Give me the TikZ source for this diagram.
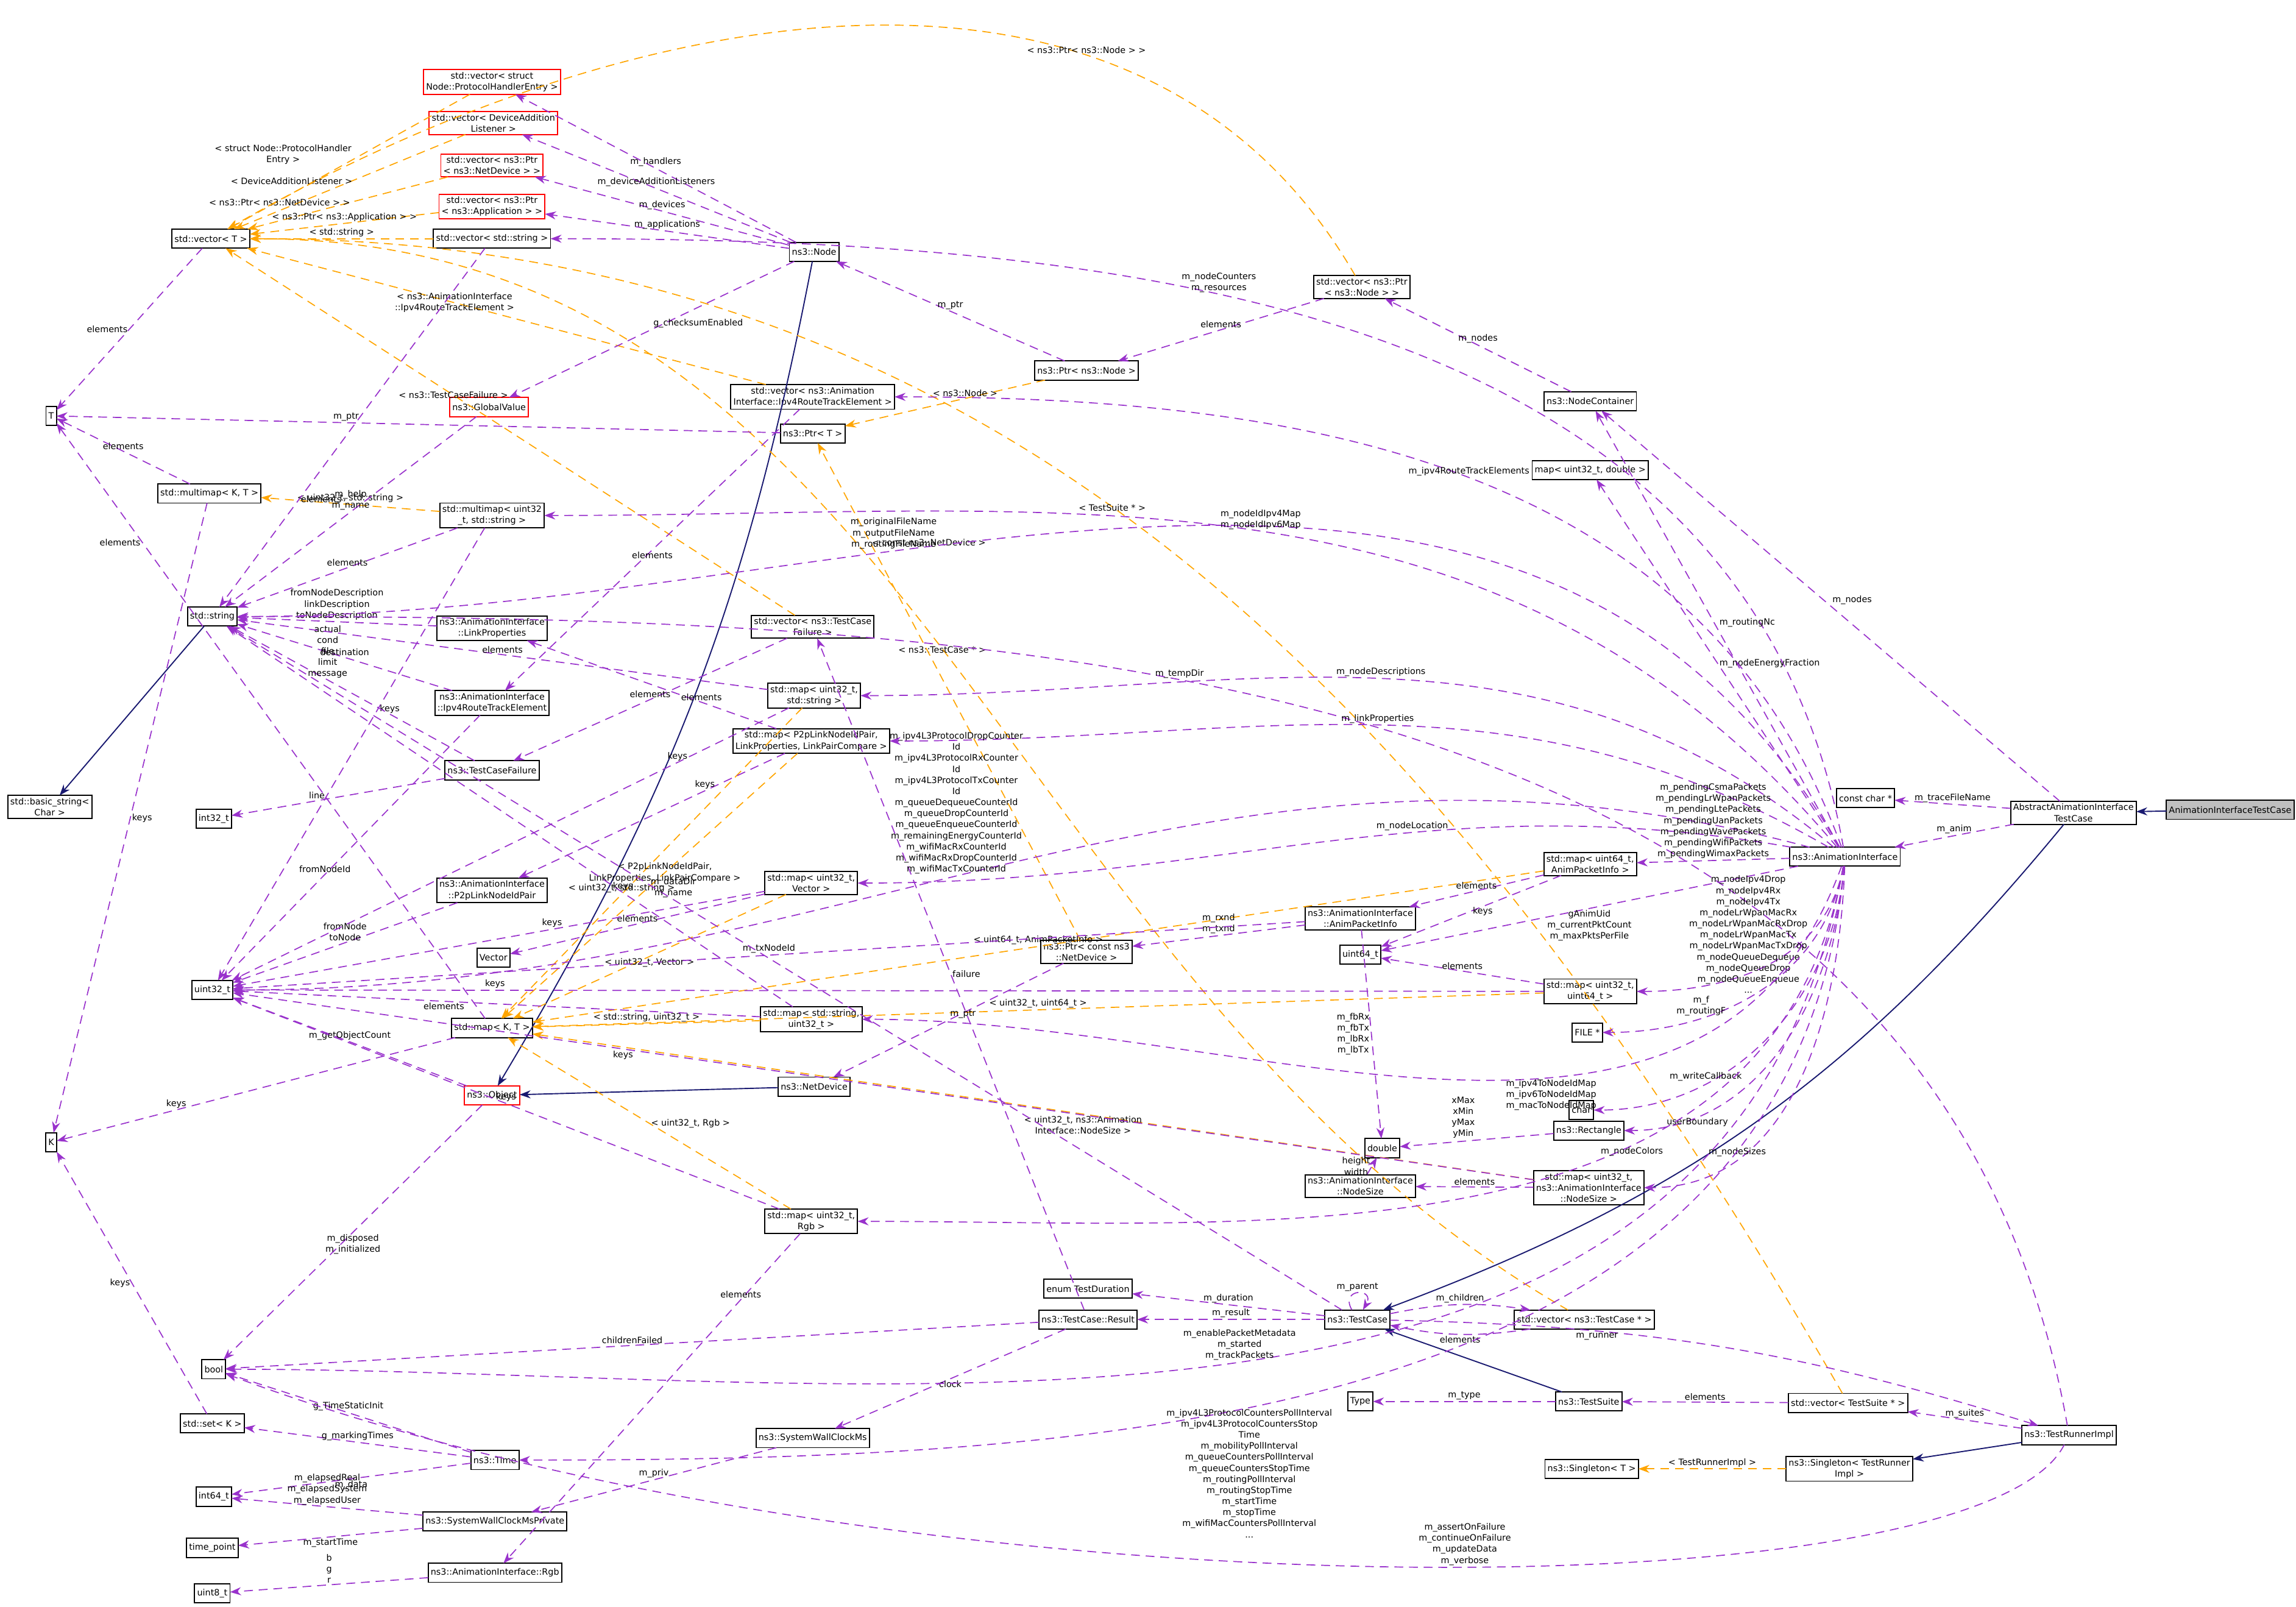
\documentclass[tikz,border=0pt]{standalone}
\usepackage{fontspec}
\setmainfont{DejaVu Sans}
\usetikzlibrary{arrows.meta}

\definecolor{usecol}{RGB}{153,50,204}
\definecolor{tplcol}{RGB}{255,165,0}
\definecolor{inhcol}{RGB}{25,25,112}

\begin{document}
\begin{tikzpicture}[x=0.2mm,y=-0.2mm,font=\fontsize{3.4}{4.3}\selectfont]
\tikzset{every node/.style={inner sep=0.25mm, outer sep=0mm}}

\tikzstyle{cls}=[draw=black, fill=white, text=black, align=center, inner sep=0.35mm, minimum height=2.6mm, line width=0.45pt]
\tikzstyle{red}=[cls, draw=red]
\tikzstyle{me}=[cls, fill=black!25]
\tikzstyle{lbl}=[align=center, fill=none, text=black]
\tikzstyle{use}=[->, >={Stealth[length=1.5mm,width=1.1mm]}, usecol, dash pattern=on 1.2mm off 0.8mm, line width=0.4pt]
\tikzstyle{tpl}=[->, >={Stealth[length=1.5mm,width=1.1mm]}, tplcol, dash pattern=on 1.2mm off 0.8mm, line width=0.4pt]
\tikzstyle{inh}=[->, >={Stealth[length=1.5mm,width=1.1mm]}, inhcol, line width=0.45pt]

\useasboundingbox[fill=white] (0,0) rectangle (1568,1097);

% left column
\node[cls] (T) at (35,284) {T};
\node[cls] (vecT) at (144,163) {std::vector< T >};
\node[cls] (mmKT) at (143,337) {std::multimap< K, T >};
\node[cls] (str) at (145,421) {std::string};
\node[cls] (bstr) at (34,551) {std::basic\_string<\\Char >};
\node[cls] (i32) at (146,559) {int32\_t};
\node[cls] (u32) at (145,676) {uint32\_t};
\node[cls] (K) at (35,780) {K};
\node[cls] (bool) at (146,935) {bool};
\node[cls] (setK) at (145,972) {std::set< K >};
\node[cls] (i64) at (146,1022) {int64\_t};
\node[cls] (tp) at (145,1057) {time\_point};
\node[cls] (u8) at (145,1088) {uint8\_t};

% second column
\node[red] (vecPH) at (336,56) {std::vector< struct\\Node::ProtocolHandlerEntry >};
\node[red] (vecDA) at (337,84) {std::vector< DeviceAddition\\Listener >};
\node[red] (vecND) at (336,113) {std::vector< ns3::Ptr\\< ns3::NetDevice > >};
\node[red] (vecApp) at (336,141) {std::vector< ns3::Ptr\\< ns3::Application > >};
\node[cls] (vecStr) at (336,163) {std::vector< std::string >};
\node[red] (gv) at (334,278) {ns3::GlobalValue};
\node[cls] (mmU32Str) at (336,352) {std::multimap< uint32\\\_t, std::string >};
\node[cls] (linkProp) at (336,429) {ns3::AnimationInterface\\::LinkProperties};
\node[cls] (rte) at (336,480) {ns3::AnimationInterface\\::Ipv4RouteTrackElement};
\node[cls] (tcf) at (336,526) {ns3::TestCaseFailure};
\node[cls] (p2pPair) at (336,608) {ns3::AnimationInterface\\::P2pLinkNodeIdPair};
\node[cls] (vector) at (337,654) {Vector};
\node[cls] (mapKT) at (336,702) {std::map< K, T >};
\node[red] (obj) at (336,748) {ns3::Object};
\node[cls] (time) at (338,997) {ns3::Time};
\node[cls] (swcp) at (338,1039) {ns3::SystemWallClockMsPrivate};
\node[cls] (rgb) at (338,1074) {ns3::AnimationInterface::Rgb};

% third column
\node[cls] (node) at (556,172) {ns3::Node};
\node[cls] (vecRte) at (555,271) {std::vector< ns3::Animation\\Interface::Ipv4RouteTrackElement >};
\node[cls] (ptrT) at (555,296) {ns3::Ptr< T >};
\node[cls] (vecTcf) at (555,428) {std::vector< ns3::TestCase\\Failure >};
\node[cls] (mapU32Str) at (556,475) {std::map< uint32\_t,\\std::string >};
\node[cls] (mapP2p) at (554,506) {std::map< P2pLinkNodeIdPair,\\LinkProperties, LinkPairCompare >};
\node[cls] (mapU32Vec) at (554,603) {std::map< uint32\_t,\\Vector >};
\node[cls] (mapStrU32) at (554,696) {std::map< std::string,\\uint32\_t >};
\node[cls] (netdev) at (556,742) {ns3::NetDevice};
\node[cls] (mapU32Rgb) at (554,834) {std::map< uint32\_t,\\Rgb >};
\node[cls] (swc) at (555,982) {ns3::SystemWallClockMs};

% fourth column
\node[cls] (ptrNode) at (742,253) {ns3::Ptr< ns3::Node >};
\node[cls] (ptrND) at (742,650) {ns3::Ptr< const ns3\\::NetDevice >};
\node[cls] (dur) at (743,880) {enum TestDuration};
\node[cls] (result) at (743,901) {ns3::TestCase::Result};
\node[cls] (vecPtrNode) at (930,196) {std::vector< ns3::Ptr\\< ns3::Node > >};
\node[cls] (api) at (929,627) {ns3::AnimationInterface\\::AnimPacketInfo};
\node[cls] (u64) at (929,652) {uint64\_t};
\node[cls] (double) at (944,784) {double};
\node[cls] (nsize) at (929,810) {ns3::AnimationInterface\\::NodeSize};
\node[cls] (tc) at (927,901) {ns3::TestCase};
\node[cls] (type) at (929,957) {Type};

% fifth column
\node[cls] (nc) at (1086,274) {ns3::NodeContainer};
\node[cls] (mapDbl) at (1086,321) {map< uint32\_t, double >};
\node[cls] (mapU64Api) at (1086,590) {std::map< uint64\_t,\\AnimPacketInfo >};
\node[cls] (mapU32U64) at (1086,677) {std::map< uint32\_t,\\uint64\_t >};
\node[cls] (file) at (1084,705) {FILE *};
\node[cls] (char) at (1080,758) {char};
\node[cls] (rect) at (1085,772) {ns3::Rectangle};
\node[cls] (mapNs) at (1085,811) {std::map< uint32\_t,\\ns3::AnimationInterface\\::NodeSize >};
\node[cls] (vecTc) at (1082,901) {std::vector< ns3::TestCase * >};
\node[cls] (ts) at (1085,957) {ns3::TestSuite};
\node[cls] (singT) at (1087,1003) {ns3::Singleton< T >};

% right part
\node[cls] (ai) at (1260,585) {ns3::AnimationInterface};
\node[cls] (vecTs) at (1262,958) {std::vector< TestSuite * >};
\node[cls] (singR) at (1263,1003) {ns3::Singleton< TestRunner\\Impl >};
\node[cls] (tri) at (1413,980) {ns3::TestRunnerImpl};
\node[cls] (cchar) at (1274,545) {const char *};
\node[cls] (aaitc) at (1416,555) {AbstractAnimationInterface\\TestCase};
\node[me] (aitc) at (1523,553) {AnimationInterfaceTestCase};

% inheritance
\draw[inh] (aitc) -- (aaitc);
\draw[inh] (aaitc) to[bend left=15] (tc);
\draw[inh] (str) -- (bstr);
\draw[inh] (node) to[bend left=10] (obj);
\draw[inh] (netdev) -- (obj);
\draw[inh] (ts) -- (tc);
\draw[inh] (tri) -- (singR);

% templates
\draw[tpl] (vecPH) -- node[lbl, above left=-0.6mm]{< struct Node::ProtocolHandler\\Entry >} (vecT);
\draw[tpl] (vecDA) -- node[lbl, above left=-0.6mm]{< DeviceAdditionListener >} (vecT);
\draw[tpl] (vecND) -- node[lbl, above left=-0.6mm]{< ns3::Ptr< ns3::NetDevice > >} (vecT);
\draw[tpl] (vecApp) -- node[lbl, above]{< ns3::Ptr< ns3::Application > >} (vecT);
\draw[tpl] (vecStr) -- node[lbl, above]{< std::string >} (vecT);
\draw[tpl] (vecPtrNode) to[out=120, in=30] node[lbl, pos=0.3, above]{< ns3::Ptr< ns3::Node > >} (vecT);
\draw[tpl] (vecRte) -- node[lbl, pos=0.6]{< ns3::AnimationInterface\\::Ipv4RouteTrackElement >} (vecT);
\draw[tpl] (vecTcf) -- node[lbl, pos=0.6]{< ns3::TestCaseFailure >} (vecT);
\draw[tpl] (vecTc) to[out=150, in=0] node[lbl, pos=0.5]{< ns3::TestCase * >} (vecT);
\draw[tpl] (vecTs) to[out=120, in=0] node[lbl, pos=0.55]{< TestSuite * >} (vecT);
\draw[tpl] (mmU32Str) -- node[lbl, above]{< uint32\_t, std::string >} (mmKT);
\draw[tpl] (ptrNode) -- node[lbl, pos=0.4, above]{< ns3::Node >} (ptrT);
\draw[tpl] (ptrND) -- node[lbl, pos=0.8, right]{< const ns3::NetDevice >} (ptrT);
\draw[tpl] (mapU32Str) -- node[lbl, pos=0.6, above]{< uint32\_t, std::string >} (mapKT);
\draw[tpl] (mapP2p) -- node[lbl, pos=0.45]{< P2pLinkNodeIdPair,\\LinkProperties, LinkPairCompare >} (mapKT);
\draw[tpl] (mapU32Vec) -- node[lbl, pos=0.5, below]{< uint32\_t, Vector >} (mapKT);
\draw[tpl] (mapStrU32) -- node[lbl, above]{< std::string, uint32\_t >} (mapKT);
\draw[tpl] (mapU32Rgb) -- node[lbl, pos=0.5, right]{< uint32\_t, Rgb >} (mapKT);
\draw[tpl] (mapU64Api) -- node[lbl, pos=0.5, above]{< uint64\_t, AnimPacketInfo >} (mapKT);
\draw[tpl] (mapU32U64) -- node[lbl, pos=0.5, above]{< uint32\_t, uint64\_t >} (mapKT);
\draw[tpl] (mapNs) -- node[lbl, pos=0.45, below]{< uint32\_t, ns3::Animation\\Interface::NodeSize >} (mapKT);
\draw[tpl] (singR) -- node[lbl, above]{< TestRunnerImpl >} (singT);

% members, left part
\draw[use] (vecT) -- node[lbl, left]{elements} (T);
\draw[use] (mmKT) -- node[lbl, above]{elements} (T);
\draw[use] (mmKT) -- node[lbl, right]{keys} (K);
\draw[use] (setK) -- node[lbl, left]{keys} (K);
\draw[use] (mapKT) -- node[lbl, pos=0.8, left]{elements} (T);
\draw[use] (mapKT) -- node[lbl, pos=0.7, above]{keys} (K);
\draw[use] (vecStr) -- node[lbl, pos=0.7, right]{elements} (str);
\draw[use] (mmU32Str) -- node[lbl, above]{elements} (str);
\draw[use] (mmU32Str) -- node[lbl, pos=0.4, right]{keys} (u32);
\draw[use] (gv) -- node[lbl, above]{m\_help\\m\_name} (str);
\draw[use] (ptrT) -- node[lbl, pos=0.6, above]{m\_ptr} (T);
\draw[use] (linkProp) -- node[lbl, above]{fromNodeDescription\\linkDescription\\toNodeDescription} (str);
\draw[use] (rte) -- node[lbl, above]{destination} (str);
\draw[use] (rte) -- node[lbl, pos=0.6, above]{fromNodeId} (u32);
\draw[use] (tcf) -- node[lbl, pos=0.6, above]{actual\\cond\\file\\limit\\message} (str);
\draw[use] (tcf) -- node[lbl, pos=0.6, above]{line} (i32);
\draw[use] (p2pPair) -- node[lbl, above]{fromNode\\toNode} (u32);
\draw[use] (obj) -- node[lbl, above]{m\_getObjectCount} (u32);
\draw[use] (obj) -- node[lbl, below]{m\_disposed\\m\_initialized} (bool);
\draw[use] (time) -- node[lbl, above]{g\_TimeStaticInit} (bool);
\draw[use] (time) -- node[lbl, above]{g\_markingTimes} (setK);
\draw[use] (time) -- node[lbl, below]{m\_data} (i64);
\draw[use] (swcp) -- node[lbl, above]{m\_elapsedReal\\m\_elapsedSystem\\m\_elapsedUser} (i64);
\draw[use] (swcp) -- node[lbl, below]{m\_startTime} (tp);
\draw[use] (rgb) -- node[lbl, above]{b\\g\\r} (u8);

% members, middle part
\draw[use] (node) -- node[lbl, above]{m\_handlers} (vecPH);
\draw[use] (node) -- node[lbl, above]{m\_deviceAdditionListeners} (vecDA);
\draw[use] (node) -- node[lbl, above]{m\_devices} (vecND);
\draw[use] (node) -- node[lbl, above]{m\_applications} (vecApp);
\draw[use] (node) -- node[lbl, above right]{g\_checksumEnabled} (gv);
\draw[use] (ptrNode) -- node[lbl, above]{m\_ptr} (node);
\draw[use] (vecPtrNode) -- node[lbl, above]{elements} (ptrNode);
\draw[use] (nc) -- node[lbl, above]{m\_nodes} (vecPtrNode);
\draw[use] (vecRte) -- node[lbl, below]{elements} (rte);
\draw[use] (vecTcf) -- node[lbl, above]{elements} (tcf);
\draw[use] (mapU32Str) -- node[lbl, above]{elements} (str);
\draw[use] (mapU32Str) -- node[lbl, pos=0.2, above]{keys} (u32);
\draw[use] (mapP2p) -- node[lbl, pos=0.3, above]{elements} (linkProp);
\draw[use] (mapP2p) -- node[lbl, pos=0.3, above]{keys} (p2pPair);
\draw[use] (mapU32Vec) -- node[lbl, above]{elements} (vector);
\draw[use] (mapU32Vec) -- node[lbl, pos=0.4, above]{keys} (u32);
\draw[use] (mapStrU32) -- node[lbl, pos=0.3, above]{keys} (str);
\draw[use] (mapStrU32) -- node[lbl, pos=0.6, below]{elements} (u32);
\draw[use] (mapU32Rgb) -- node[lbl, pos=0.2, above]{elements} (rgb);
\draw[use] (mapU32Rgb) -- node[lbl, pos=0.5, above]{keys} (u32);
\draw[use] (ptrND) -- node[lbl, pos=0.5, above right]{m\_ptr} (netdev);
\draw[use] (swc) -- node[lbl, above]{m\_priv} (swcp);
\draw[use] (api) -- node[lbl, above]{m\_rxnd\\m\_txnd} (ptrND);
\draw[use] (api) -- node[lbl, pos=0.5, above]{m\_txNodeId} (u32);
\draw[use] (api) -- node[lbl, pos=0.5, left]{m\_fbRx\\m\_fbTx\\m\_lbRx\\m\_lbTx} (double);
\draw[use] (mapU64Api) -- node[lbl, above]{elements} (api);
\draw[use] (mapU64Api) -- node[lbl, pos=0.5, right]{keys} (u64);
\draw[use] (mapU32U64) -- node[lbl, above]{elements} (u64);
\draw[use] (mapU32U64) -- node[lbl, pos=0.8, above]{keys} (u32);
\draw[use] (rect) -- node[lbl, above left]{xMax\\xMin\\yMax\\yMin} (double);
\draw[use] (nsize) -- node[lbl, left]{height\\width} (double);
\draw[use] (mapNs) -- node[lbl, above]{elements} (nsize);
\draw[use] (mapNs) -- node[lbl, pos=0.7, below]{keys} (u32);

% test framework
\draw[use] (tc) -- node[lbl, above]{m\_duration} (dur);
\draw[use] (tc) -- node[lbl, above]{m\_result} (result);
\draw[use] (tc) to[out=120, in=60, looseness=6] node[lbl, above]{m\_parent} (tc);
\draw[use] (tc) to[bend left=10] node[lbl, above]{m\_children} (vecTc);
\draw[use] (vecTc) to[bend left=10] node[lbl, below]{elements} (tc);
\draw[use] (tc) -- node[lbl, pos=0.6, above]{m\_dataDir\\m\_name} (str);
\draw[use] (result) -- node[lbl, right]{failure} (vecTcf);
\draw[use] (result) -- node[lbl, above]{childrenFailed} (bool);
\draw[use] (result) -- node[lbl, below]{clock} (swc);
\draw[use] (ts) -- node[lbl, above]{m\_type} (type);
\draw[use] (vecTs) -- node[lbl, above]{elements} (ts);
\draw[use] (tri) -- node[lbl, above]{m\_suites} (vecTs);
\draw[use] (tc) to[bend left=8] node[lbl, pos=0.3, below]{m\_runner} (tri);
\draw[use] (tri) .. controls (1350,1105) and (600,1105) .. node[lbl, pos=0.45, above]{m\_assertOnFailure\\m\_continueOnFailure\\m\_updateData\\m\_verbose} (bool);
\draw[use] (tri) to[out=100, in=0] node[lbl, pos=0.6, above]{m\_tempDir} (str);

% AnimationInterface members
\draw[use] (aaitc) -- node[lbl, above]{m\_anim} (ai);
\draw[use] (aaitc) -- node[lbl, above]{m\_traceFileName} (cchar);
\draw[use] (aaitc) -- node[lbl, above right]{m\_nodes} (nc);
\draw[use] (ai) to[out=100, in=0] node[lbl, pos=0.6, above]{m\_nodeCounters\\m\_resources} (vecStr);
\draw[use] (ai) -- node[lbl, above right]{m\_routingNc} (nc);
\draw[use] (ai) -- node[lbl, right]{m\_nodeEnergyFraction} (mapDbl);
\draw[use] (ai) to[out=110, in=0] node[lbl, pos=0.5, above]{m\_ipv4RouteTrackElements} (vecRte);
\draw[use] (ai) to[out=120, in=0] node[lbl, pos=0.65, above]{m\_originalFileName\\m\_outputFileName\\m\_routingFileName} (str);
\draw[use] (ai) to[out=130, in=0] node[lbl, pos=0.5, above]{m\_nodeIdIpv4Map\\m\_nodeIdIpv6Map} (mmU32Str);
\draw[use] (ai) to[out=140, in=0] node[lbl, pos=0.5, above]{m\_nodeDescriptions} (mapU32Str);
\draw[use] (ai) to[out=150, in=0] node[lbl, pos=0.5, above]{m\_linkProperties} (mapP2p);
\draw[use] (ai) to[out=165, in=0] node[lbl, pos=0.55, above]{m\_ipv4L3ProtocolDropCounter\\Id\\m\_ipv4L3ProtocolRxCounter\\Id\\m\_ipv4L3ProtocolTxCounter\\Id\\m\_queueDequeueCounterId\\m\_queueDropCounterId\\m\_queueEnqueueCounterId\\m\_remainingEnergyCounterId\\m\_wifiMacRxCounterId\\m\_wifiMacRxDropCounterId\\m\_wifiMacTxCounterId} (u32);
\draw[use] (ai) to[out=170, in=0] node[lbl, pos=0.4, above]{m\_nodeLocation} (mapU32Vec);
\draw[use] (ai) -- node[lbl, above]{m\_pendingCsmaPackets\\m\_pendingLrWpanPackets\\m\_pendingLtePackets\\m\_pendingUanPackets\\m\_pendingWavePackets\\m\_pendingWifiPackets\\m\_pendingWimaxPackets} (mapU64Api);
\draw[use] (ai) -- node[lbl, below]{gAnimUid\\m\_currentPktCount\\m\_maxPktsPerFile} (u64);
\draw[use] (ai) to[out=-100, in=0] node[lbl, pos=0.3, left]{m\_nodeIpv4Drop\\m\_nodeIpv4Rx\\m\_nodeIpv4Tx\\m\_nodeLrWpanMacRx\\m\_nodeLrWpanMacRxDrop\\m\_nodeLrWpanMacTx\\m\_nodeLrWpanMacTxDrop\\m\_nodeQueueDequeue\\m\_nodeQueueDrop\\m\_nodeQueueEnqueue\\...} (mapU32U64);
\draw[use] (ai) to[out=-100, in=0] node[lbl, pos=0.7, above]{m\_f\\m\_routingF} (file);
\draw[use] (ai) to[out=-110, in=0] node[lbl, pos=0.4, below]{m\_ipv4ToNodeIdMap\\m\_ipv6ToNodeIdMap\\m\_macToNodeIdMap} (mapStrU32);
\draw[use] (ai) to[out=-95, in=0] node[lbl, pos=0.7, above]{m\_writeCallback} (char);
\draw[use] (ai) to[out=-95, in=0] node[lbl, pos=0.8, below]{userBoundary} (rect);
\draw[use] (ai) to[out=-92, in=0] node[lbl, pos=0.75, above]{m\_nodeSizes} (mapNs);
\draw[use] (ai) to[out=-100, in=0] node[lbl, pos=0.35, below]{m\_nodeColors} (mapU32Rgb);
\draw[use] (ai) to[out=-100, in=0] node[lbl, pos=0.5, above]{m\_enablePacketMetadata\\m\_started\\m\_trackPackets} (bool);
\draw[use] (ai) to[out=-95, in=0] node[lbl, pos=0.58, below]{m\_ipv4L3ProtocolCountersPollInterval\\m\_ipv4L3ProtocolCountersStop\\Time\\m\_mobilityPollInterval\\m\_queueCountersPollInterval\\m\_queueCountersStopTime\\m\_routingPollInterval\\m\_routingStopTime\\m\_startTime\\m\_stopTime\\m\_wifiMacCountersPollInterval\\...} (time);

\end{tikzpicture}
\end{document}
